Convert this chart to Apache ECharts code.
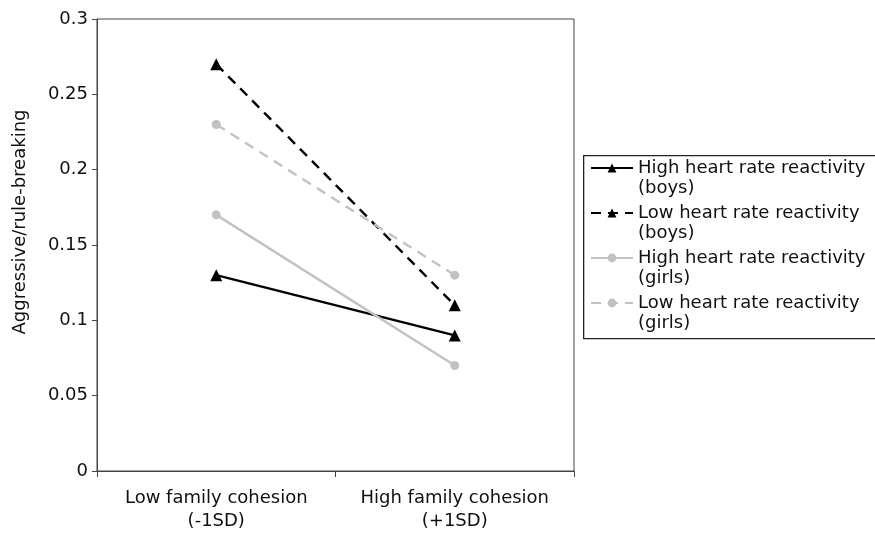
<!DOCTYPE html>
<html><head><meta charset="utf-8">
<script src="https://cdn.jsdelivr.net/npm/echarts@6/dist/echarts.min.js"></script>
<style>html,body{margin:0;padding:0;background:#fff}#c{width:875px;height:533px}</style>
</head><body><div id="c"></div>
<script>
var categories = ['Low family cohesion\n(-1SD)', 'High family cohesion\n(+1SD)'];
var seriesNames = ['High heart rate reactivity\n(boys)', 'Low heart rate reactivity\n(boys)', 'High heart rate reactivity\n(girls)', 'Low heart rate reactivity\n(girls)'];
var highBoys = [0.13, 0.09];
var lowBoys = [0.27, 0.11];
var highGirls = [0.17, 0.07];
var lowGirls = [0.23, 0.13];
var yTicks = [0, 0.05, 0.1, 0.15, 0.2, 0.25, 0.3];

var font = 'DejaVu Sans, Liberation Sans, Arial, sans-serif';
function mk(name, data, color, dashed, symbol, size) {
  return {
    name: name, type: 'line', data: data, symbol: symbol, symbolSize: size,
    itemStyle: {color: color},
    lineStyle: {color: color, width: 2.4, type: dashed ? [10, 7] : 'solid'},
    emphasis: {disabled: true}
  };
}
var chart = echarts.init(document.getElementById('c'));
chart.setOption({
  animation: false,
  backgroundColor: '#fff',
  grid: {left: 97, top: 19, right: 301, bottom: 62, show: true, borderColor: '#444', borderWidth: 1},
  xAxis: {
    type: 'category', data: categories, boundaryGap: true,
    axisLine: {lineStyle: {color: '#444', width: 1}},
    axisTick: {show: true, length: 6, interval: 0, lineStyle: {color: '#444'}},
    axisLabel: {color: '#111', fontSize: 18, fontFamily: font, margin: 16, lineHeight: 23, interval: 0, hideOverlap: false}
  },
  yAxis: {
    type: 'value', min: 0, max: 0.3, interval: 0.05,
    name: 'Aggressive/rule-breaking', nameLocation: 'middle', nameGap: 68,
    nameTextStyle: {color: '#111', fontSize: 18, fontFamily: font, padding: [0, 0, 0, 46]},
    axisLine: {show: true, lineStyle: {color: '#444', width: 1}},
    axisTick: {show: true, length: 5, lineStyle: {color: '#444'}},
    splitLine: {show: false},
    axisLabel: {color: '#111', fontSize: 18, fontFamily: font, margin: 9,
      formatter: function (v) { var s = yTicks.find(function (t) { return Math.abs(t - v) < 1e-9; }); return String(s !== undefined ? s : v); }}
  },
  graphic: [{
    type: 'rect', left: 583, top: 155, z: 0,
    shape: {width: 300, height: 183},
    style: {fill: '#fff', stroke: '#222', lineWidth: 1.3}
  }],
  legend: {
    orient: 'vertical', left: 590, top: 138,
    padding: 0, itemGap: -15, itemWidth: 42, itemHeight: 11,
    formatter: function (name) { return '\n' + name; },
    textStyle: {color: '#111', fontSize: 18, fontFamily: font, lineHeight: 20},
    data: seriesNames
  },
  series: [
    mk(seriesNames[0], highBoys, '#000', false, 'triangle', 12),
    mk(seriesNames[1], lowBoys, '#000', true, 'triangle', 12),
    mk(seriesNames[2], highGirls, '#c2c2c2', false, 'circle', 9),
    mk(seriesNames[3], lowGirls, '#c2c2c2', true, 'circle', 9)
  ]
});
</script></body></html>
